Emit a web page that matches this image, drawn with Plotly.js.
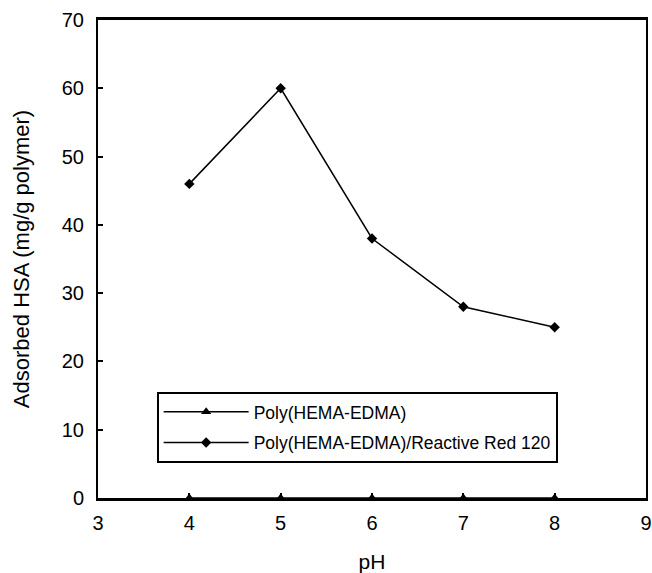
<!DOCTYPE html>
<html>
<head>
<meta charset="utf-8">
<script src="https://cdn.plot.ly/plotly-3.0.1.min.js"></script>
<style>html,body{margin:0;padding:0;background:#fff;overflow:hidden;}#chart{width:652px;height:573px;display:block;}</style>
</head>
<body>
<div id="chart"></div>
<script>
var pH = [4, 5, 6, 7, 8];
var plainPolymer = [0, 0, 0, 0, 0];
var dyedPolymer = [46, 60, 38, 28, 25];
var seriesNames = ["Poly(HEMA-EDMA)", "Poly(HEMA-EDMA)/Reactive Red 120"];
var xTicks = [3, 4, 5, 6, 7, 8, 9];
var yTicks = [0, 10, 20, 30, 40, 50, 60, 70];

var traces = [
  {x: pH, y: plainPolymer, name: seriesNames[0], legendgroup: "a", mode: "lines+markers", type: "scatter",
   line: {color: "#000", width: 1.5}, marker: {symbol: "triangle-up", size: 9, color: "#000"}, cliponaxis: false},
  {x: pH, y: dyedPolymer, name: seriesNames[1], legendgroup: "b", mode: "lines+markers", type: "scatter",
   line: {color: "#000", width: 1.5}, marker: {symbol: "diamond", size: 8, color: "#000"}, cliponaxis: false}
];

var layout = {
  width: 652, height: 573,
  margin: {l: 98, r: 6, t: 20, b: 75},
  paper_bgcolor: "#fff", plot_bgcolor: "#fff",
  font: {family: "Liberation Sans, Arial, sans-serif", color: "#000", size: 16},
  showlegend: true,
  legend: {x: 0.107, y: 0.222, xanchor: "left", yanchor: "top",
    bordercolor: "#000", borderwidth: 2, bgcolor: "#fff",
    font: {size: 17.5}, traceorder: "grouped", tracegroupgap: 5,
    itemwidth: 85},
  xaxis: {range: [3, 9], tickvals: xTicks, ticktext: xTicks.map(String),
    showgrid: false, zeroline: false, showline: true, linecolor: "#000", linewidth: 3,
    mirror: true, ticks: "inside", ticklen: 5, tickcolor: "#000", tickwidth: 2,
    tickfont: {size: 20}, ticklabelstandoff: 5, ticklabeloverflow: "allow",
    title: {text: "pH", font: {size: 21}, standoff: 22}},
  yaxis: {range: [0, 70], tickvals: yTicks, ticktext: yTicks.map(String),
    showgrid: false, zeroline: false, showline: true, linecolor: "#000", linewidth: 2,
    mirror: true, ticks: "inside", ticklen: 5, tickcolor: "#000", tickwidth: 2,
    tickfont: {size: 20}, ticklabelstandoff: 8, ticklabeloverflow: "allow",
    title: {text: "Adsorbed HSA (mg/g polymer)", font: {size: 22}, standoff: 26}}
};

Plotly.newPlot("chart", traces, layout, {displayModeBar: false, staticPlot: true});
</script>
</body>
</html>
